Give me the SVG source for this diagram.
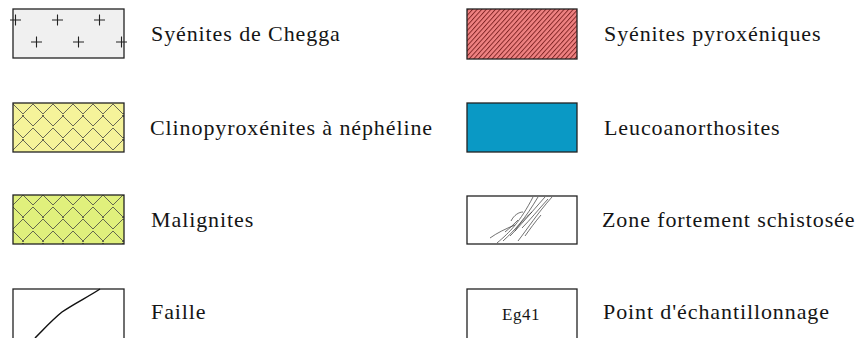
<svg xmlns="http://www.w3.org/2000/svg" width="863" height="338" viewBox="0 0 863 338">
<defs>
<style>
.box{stroke:#222;stroke-width:1.3}
.lbl{font-family:'Liberation Serif','Times New Roman',serif;font-size:22px;letter-spacing:0.9px;fill:#151515}
.cross{stroke:#222;stroke-width:1.1;fill:none}
.sch{stroke:#333;stroke-width:0.7;fill:none}
</style>
<pattern id="pv" patternUnits="userSpaceOnUse" x="13" y="103" width="20" height="24">
<path d="M-1,0 L10,11 L21,0 M-11,12 L0,23 L11,12 M9,12 L20,23 L31,12" stroke="#444" stroke-width="0.8" fill="none"/>
</pattern>
<pattern id="pa" patternUnits="userSpaceOnUse" x="13" y="195" width="20" height="24">
<path d="M-1,11 L10,0 L21,11 M-11,23 L0,12 L11,23 M9,23 L20,12 L31,23" stroke="#444" stroke-width="0.8" fill="none"/>
</pattern>
<pattern id="ph" patternUnits="userSpaceOnUse" width="3.4" height="10" patternTransform="rotate(42)">
<line x1="0.5" y1="0" x2="0.5" y2="10" stroke="#7a1f1f" stroke-width="0.9"/>
</pattern>
</defs>
<rect width="863" height="338" fill="#ffffff"/>

<g id="syenites-chegga">
<rect class="box" x="13" y="9" width="111" height="49" fill="#f0f0f0"/>
<path class="cross" d="M10,20h11M15.5,14.5v11 M52,20h11M57.5,14.5v11 M94,20h11M99.5,14.5v11 M31,42h11M36.5,36.5v11 M73,42h11M78.5,36.5v11 M116,42h11M121.5,36.5v11"/>
<text class="lbl" x="151" y="41">Syénites de Chegga</text>
</g>

<g id="clinopyroxenites">
<rect x="13" y="103" width="111" height="49" fill="#f5f39a"/>
<rect x="13" y="103" width="111" height="49" fill="url(#pv)"/>
<rect class="box" x="13" y="103" width="111" height="49" fill="none"/>
<text class="lbl" x="150" y="135">Clinopyroxénites à néphéline</text>
</g>

<g id="malignites">
<rect x="13" y="195" width="111" height="49" fill="#e0f07c"/>
<rect x="13" y="195" width="111" height="49" fill="url(#pa)"/>
<rect class="box" x="13" y="195" width="111" height="49" fill="none"/>
<text class="lbl" x="151" y="227">Malignites</text>
</g>

<g id="faille">
<rect class="box" x="13" y="289" width="111" height="60" fill="#ffffff"/>
<path d="M35,338 C44,329 52,320 62,312 C75,303 88,297 100,289" stroke="#111" stroke-width="1.5" fill="none"/>
<text class="lbl" x="151" y="319">Faille</text>
</g>

<g id="syenites-pyroxeniques">
<rect x="467" y="9" width="110" height="50" fill="#ef8282"/>
<rect x="467" y="9" width="110" height="50" fill="url(#ph)"/>
<rect class="box" x="467" y="9" width="110" height="50" fill="none"/>
<text class="lbl" x="604" y="41">Syénites pyroxéniques</text>
</g>

<g id="leucoanorthosites">
<rect class="box" x="467" y="103" width="110" height="49" fill="#0a99c5"/>
<text class="lbl" x="604" y="135">Leucoanorthosites</text>
</g>

<g id="zone-schistosee">
<rect class="box" x="467" y="196" width="110" height="48" fill="#ffffff"/>
<path class="sch" d="M497,243 C510,232 520,222 533,197 M503,241 C515,230 525,219 538,197 M510,236 C520,226 530,214 545,197 M518,241 C528,228 537,214 552,197 M522,228 C530,220 538,210 548,199 M515,231 C519,224 525,218 532,212 M511,221 C514,215 519,212 523,212 M490,238 C497,233 505,229 515,225 M525,236 C530,229 535,222 541,215 M505,232 C510,228 514,224 518,220"/>
<text class="lbl" x="602" y="227">Zone fortement schistosée</text>
</g>

<g id="point-echantillonnage">
<rect class="box" x="467" y="289" width="110" height="60" fill="#ffffff"/>
<text x="521" y="320" text-anchor="middle" font-family="'Liberation Serif','Times New Roman',serif" font-size="17" letter-spacing="0.5" fill="#151515">Eg41</text>
<text class="lbl" x="603" y="319">Point d'échantillonnage</text>
</g>
</svg>
